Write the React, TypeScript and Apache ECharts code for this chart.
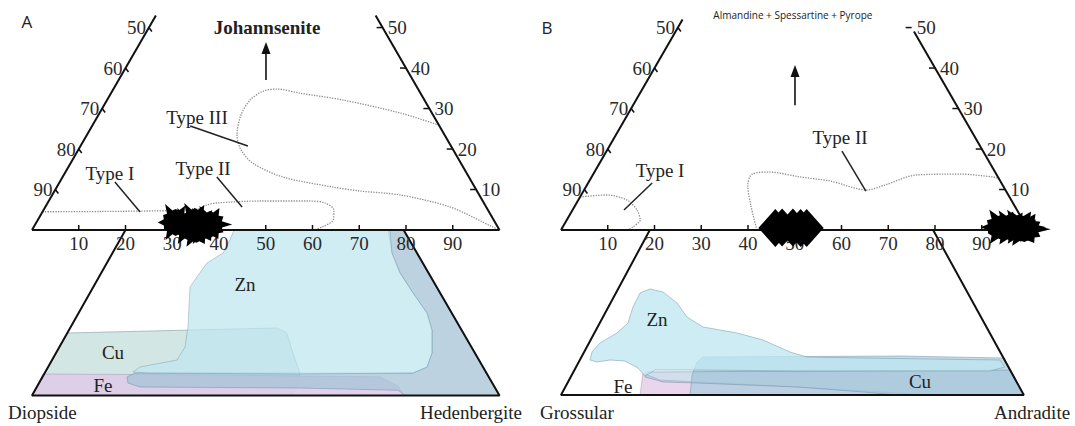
import React, { useEffect, useRef } from "react";
import * as echarts from "echarts";

// ---------- data ----------
const baseTicks = [10, 20, 30, 40, 50, 60, 70, 80, 90];
const leftTicks = [90, 80, 70, 60, 50];
const rightTicks = [10, 20, 30, 40, 50];

// ternary contours: [second end-member %, apex %]
const typeI_II_A = [
  [0, 4.5], [12.3, 4.57], [28.2, 4.82], [32.9, 5.19], [34.3, 6.18], [36.2, 6.67],
  [45.2, 7.16], [55.9, 7.16], [59.3, 6.67], [62.1, 4.94], [63.2, 2.47], [61.7, 0.74], [60.3, 0],
];
const typeIII_A = [
  [74.1, 25.9], [64.3, 28.9], [50.5, 32.1], [40.4, 33.8], [35.0, 34.8], [32.3, 34.3], [30.6, 32.1],
  [30.5, 28.4], [32.1, 23.5], [34.8, 19.8], [39.0, 16.5], [47.1, 13.1], [59.1, 10.6], [65.4, 9.63],
  [74.4, 8.65], [86.6, 5.68], [98.2, 0.74], [100, 0],
];
const typeI_B = [
  [0, 8.15], [5.5, 8.65], [10.4, 7.41], [13.8, 4.94], [15.7, 2.47], [15.0, 0.74], [14.3, 0],
];
const typeII_B = [
  [41.9, 0], [37.5, 6.18], [34.4, 11.1], [34.0, 13.8], [37.5, 14.3], [44.6, 13.1], [51.5, 12.1],
  [60.5, 9.88], [63.7, 11.1], [69.3, 13.6], [78.4, 13.8], [85.9, 13.1], [87.2, 12.8],
];
const leadersA = [
  [[11.8, 11.86], [20.9, 4.45]],
  [[33.0, 13.09], [42.1, 5.68]],
  [[21.0, 25.7], [35.8, 20.75]],
];
const leadersB = [
  [[13.7, 11.6], [11.0, 4.94]],
  [[50.35, 19.5], [60.4, 9.63]],
];
// sample markers (ternary)
const starsA = [[30.2, 2.0], [33.3, 1.0], [34.2, 2.2], [36.5, 1.0], [37.8, 1.5], [35.5, 0.3]];
const diamondsB = [[45.6, 0.5], [47.0, 0.6], [49.3, 0.6], [51.0, 0.5], [52.3, 0.5]];
const starsB = [[94.5, 0.8], [96.6, 0.6], [98.3, 0.8], [99.5, 0.3]];

// lower (projected) fields, cartesian diagram units
const trapA = [[20, 0], [0, -35.4], [100, -35.4], [79.5, 0]];
const trapB = [[19, 0], [0, -35.3], [99, -35.3], [79.6, 0]];
const feA = [[2.35, -30.8], [35.9, -31.0], [74.4, -31.4], [78.3, -33.4], [79.6, -35.4], [0, -35.4]];
const cuA = [[7.55, -22.03], [52.4, -20.96], [54.5, -22.03], [55.8, -26.3], [57.3, -30.6], [56.9, -32.7], [55.6, -35.4], [0, -35.4]];
const znA = [
  [43.21, 0], [76.58, 0], [77.0, -4.92], [78.72, -9.2], [81.5, -13.48], [84.49, -17.76], [85.56, -21.39],
  [85.56, -26.31], [84.49, -29.3], [81.5, -30.59], [57.33, -30.8], [25.24, -30.59], [21.6, -30.37],
  [23.1, -29.3], [31.02, -27.81], [32.73, -25.03], [33.37, -20.75], [33.58, -16.47], [33.8, -12.19],
  [35.29, -10.05], [37.43, -7.06], [40.86, -4.92], [42.35, -2.14],
];
const dA = [
  [76.15, 0], [79.36, 0], [100, -35.4], [79.79, -35.4], [78.29, -34.29], [57.33, -33.8], [23.1, -33.58],
  [20.53, -32.73], [20.32, -31.44], [22.03, -30.59], [81.5, -30.59], [84.49, -29.3], [85.56, -26.31],
  [85.56, -21.39], [84.49, -17.76], [81.5, -13.48], [78.72, -9.2], [77.0, -4.92],
];
const feB = [[17.54, -30.59], [21.18, -32.09], [34.0, -32.73], [51.1, -33.58], [72.5, -34.87], [76.8, -35.3], [16.9, -35.3]];
const cuB = [[29.09, -28.24], [30.37, -27.17], [72.51, -26.95], [94.76, -27.38], [99.0, -35.3], [27.59, -35.3], [28.02, -31.02]];
const bandB = [
  [18.4, -30.37], [96.0, -29.95], [99.0, -35.3], [71.9, -35.3], [64.6, -34.65], [50.5, -33.58],
  [29.1, -32.73], [21.8, -32.51], [17.97, -31.44],
];
const znB = [
  [6.2, -27.81], [6.63, -26.1], [8.34, -24.17], [11.98, -22.03], [14.33, -19.89], [15.4, -16.47],
  [16.9, -13.48], [19.04, -12.62], [21.82, -13.26], [24.81, -15.61], [26.95, -18.61], [30.37, -20.75],
  [37.65, -22.03], [43.21, -23.53], [48.98, -26.1], [52.62, -27.17], [64.6, -27.38], [78.93, -27.59],
  [93.9, -27.81], [94.97, -29.3], [91.76, -30.16], [72.51, -30.16], [51.12, -30.16], [29.73, -29.95],
  [20.1, -29.95], [17.97, -31.23], [16.47, -29.52], [13.69, -28.02], [10.48, -27.81], [7.7, -28.24],
];

// ---------- styles / layout ----------
const SCALE = 4.675;
const SERIF = "'Liberation Serif', 'Times New Roman', serif";
const SANS = "'Open Sans', 'Noto Sans', sans-serif";
const R3 = Math.sqrt(3) / 2;
const t2c = (p: number[]) => [p[0] + p[1] / 2, p[1] * R3];

const annotsA = [
  { text: "A", pos: [-1.07, 44.5], size: 17, family: SANS, align: "center" },
  { text: "Johannsenite", pos: [50.27, 43.42], size: 19, weight: "bold", align: "center" },
  { text: "Type III", pos: [35.3, 24.17], size: 19, align: "center" },
  { text: "Type I", pos: [16.68, 12.19], size: 19, align: "center" },
  { text: "Type II", pos: [36.58, 13.26], size: 19, align: "center" },
  { text: "Zn", pos: [45.56, -11.76], size: 19, align: "center" },
  { text: "Cu", pos: [17.33, -26.1], size: 19, align: "center" },
  { text: "Fe", pos: [15.19, -33.16], size: 19, align: "center" },
  { text: "Diopside", pos: [-5.13, -39.14], size: 19, align: "left" },
  { text: "Hedenbergite", pos: [104.8, -39.14], size: 19, align: "right" },
];
const annotsB = [
  { text: "B", pos: [-2.99, 43.4], size: 17, family: SANS, align: "center" },
  { text: "Almandine + Spessartine + Pyrope", pos: [49.6, 46.0], size: 10, family: SANS, align: "center" },
  { text: "Type I", pos: [21.18, 12.83], size: 19, align: "center" },
  { text: "Type II", pos: [59.68, 19.89], size: 19, align: "center" },
  { text: "Zn", pos: [20.53, -19.25], size: 19, align: "center" },
  { text: "Cu", pos: [76.8, -32.5], size: 19, align: "center" },
  { text: "Fe", pos: [13.26, -33.58], size: 19, align: "center" },
  { text: "Grossular", pos: [-4.49, -39.14], size: 19, align: "left" },
  { text: "Andradite", pos: [108.9, -39.14], size: 19, align: "right" },
];

const starPath = (() => {
  const rs = [1, 0.55, 0.7, 0.55, 0.85, 0.55, 0.6, 0.55, 0.95, 0.55, 0.65, 0.55, 0.8, 0.55, 0.6, 0.55, 0.9, 0.55, 0.6, 0.55, 0.75, 0.55, 0.7, 0.55];
  let d = "";
  rs.forEach((r, i) => {
    const a = (i * Math.PI * 2) / rs.length;
    d += (i ? "L" : "M") + (r * Math.cos(a)).toFixed(3) + " " + (-r * Math.sin(a)).toFixed(3) + " ";
  });
  return "path://" + d + "Z";
})();

function buildPanel(g: number, cfg: any) {
  const series: any[] = [];
  const ax = { xAxisIndex: g, yAxisIndex: g };
  // filled fields
  series.push({
    type: "custom", ...ax, silent: true, z: 1, clip: false,
    data: cfg.regions.map((_: any, i: number) => [i, 0]),
    renderItem: (params: any, api: any) => {
      const r = cfg.regions[params.dataIndex];
      return {
        type: "polygon",
        shape: { points: r.pts.map((p: number[]) => api.coord(p)), smooth: r.smooth || 0 },
        style: { fill: r.fill, stroke: r.stroke, lineWidth: 0.8 },
      };
    },
  });
  // contours
  cfg.contours.forEach((c: number[][]) =>
    series.push({
      type: "line", ...ax, data: c.map(t2c), symbol: "none", silent: true, clip: false, z: 2, smooth: 0.3,
      lineStyle: { color: "#8c8c8c", width: 1.3, type: "dotted" },
    })
  );
  // leaders
  cfg.leaders.forEach((c: number[][]) =>
    series.push({
      type: "line", ...ax, data: c.map(t2c), symbol: "none", silent: true, clip: false, z: 3,
      lineStyle: { color: "#222", width: 1.5 },
    })
  );
  // frame
  const frames = [
    [[0, 0], [100, 0]],
    [[0, 0], t2c([0, cfg.leftTop])],
    [[100, 0], t2c([100 - cfg.rightTop, cfg.rightTop])],
    cfg.trap,
  ];
  frames.forEach((f) =>
    series.push({
      type: "line", ...ax, data: f, symbol: "none", silent: true, clip: false, z: 3,
      lineStyle: { color: "#111", width: 2 },
    })
  );
  // ticks and tick labels
  const ticks: any[] = [];
  baseTicks.forEach((t) => ticks.push({ p: [t, 0], dir: [0, -1], len: 5, label: String(t), off: [0, 13], align: "center" }));
  leftTicks.forEach((t) => ticks.push({ p: t2c([0, 100 - t]), dir: [0.6, 0.8], len: 5, label: String(t), off: [-3, 0], align: "right" }));
  rightTicks.forEach((t) => ticks.push({ p: t2c([100 - t, t]), dir: [-1, 0], len: 6, label: String(t), off: [5, 0], align: "left" }));
  series.push({
    type: "custom", ...ax, silent: true, z: 4, clip: false,
    data: ticks.map((_, i) => [i, 0]),
    renderItem: (params: any, api: any) => {
      const t = ticks[params.dataIndex];
      const [x, y] = api.coord(t.p);
      return {
        type: "group",
        children: [
          { type: "line", shape: { x1: x, y1: y, x2: x + t.dir[0] * t.len, y2: y + t.dir[1] * t.len }, style: { stroke: "#111", lineWidth: 1.5 } },
          {
            type: "text", x: x + t.off[0], y: y + t.off[1],
            style: { text: t.label, fontFamily: SERIF, fontSize: 19, fill: "#2a2a2a", align: t.align, verticalAlign: "middle" },
          },
        ],
      };
    },
  });
  // annotations
  series.push({
    type: "custom", ...ax, silent: true, z: 6, clip: false,
    data: cfg.annots.map((_: any, i: number) => [i, 0]),
    renderItem: (params: any, api: any) => {
      const a = cfg.annots[params.dataIndex];
      const [x, y] = api.coord(a.pos);
      return {
        type: "text", x, y,
        style: {
          text: a.text, fontFamily: a.family || SERIF, fontSize: a.size, fontWeight: a.weight || "normal",
          fill: "#222", align: a.align, verticalAlign: "middle",
        },
      };
    },
  });
  // arrow
  series.push({
    type: "custom", ...ax, silent: true, z: 6, clip: false,
    data: [[0, 0]],
    renderItem: (params: any, api: any) => {
      const [x1, y1] = api.coord(cfg.arrow[0]);
      const [x2, y2] = api.coord(cfg.arrow[1]);
      return {
        type: "group",
        children: [
          { type: "line", shape: { x1, y1, x2, y2: y2 + 10 }, style: { stroke: "#111", lineWidth: 1.6 } },
          { type: "polygon", shape: { points: [[x2, y2], [x2 - 4.5, y2 + 12], [x2 + 4.5, y2 + 12]] }, style: { fill: "#111" } },
        ],
      };
    },
  });
  // markers
  cfg.markers.forEach((m: any) =>
    series.push({
      type: "scatter", ...ax, data: m.data.map(t2c), symbol: m.symbol, symbolSize: m.size, silent: true, z: 5, clip: false,
      itemStyle: { color: "#000", opacity: 1 },
    })
  );
  return series;
}

export default function App() {
  const ref = useRef<HTMLDivElement>(null);
  useEffect(() => {
    document.body.style.margin = "0";
    const chart = echarts.init(ref.current!, null, { renderer: "svg" });
    const top = 230 - 46 * SCALE;
    const height = 86 * SCALE;
    const seriesA = buildPanel(0, {
      leftTop: 53, rightTop: 53, trap: trapA,
      regions: [
        { pts: cuA, fill: "rgba(208,230,226,0.95)", stroke: "rgba(120,150,150,0.7)" },
        { pts: feA, fill: "rgba(222,204,232,0.9)", stroke: "rgba(150,130,160,0.5)" },
        { pts: dA, fill: "rgba(165,195,215,0.75)", stroke: "rgba(110,140,160,0.6)" },
        { pts: znA, fill: "rgba(190,230,240,0.72)", stroke: "rgba(120,160,170,0.6)" },
      ],
      contours: [typeI_II_A, typeIII_A],
      leaders: leadersA,
      annots: annotsA,
      arrow: [[50.05, 32.1], [50.05, 40.2]],
      markers: [{ data: starsA, symbol: starPath, size: [40, 36] }],
    });
    const seriesB = buildPanel(1, {
      leftTop: 52, rightTop: 49, trap: trapB,
      regions: [
        { pts: feB, fill: "rgba(232,212,236,0.95)", stroke: "rgba(150,130,160,0.5)" },
        { pts: cuB, fill: "rgba(170,205,222,0.7)", stroke: "rgba(110,140,160,0.6)" },
        { pts: bandB, fill: "rgba(150,185,210,0.45)", stroke: "rgba(110,140,160,0.6)" },
        { pts: znB, fill: "rgba(190,230,240,0.75)", stroke: "rgba(120,160,170,0.7)" },
      ],
      contours: [typeI_B, typeII_B],
      leaders: leadersB,
      annots: annotsB,
      arrow: [[50.05, 26.7], [50.05, 35.3]],
      markers: [
        { data: diamondsB, symbol: "diamond", size: [34, 38] },
        { data: starsB, symbol: starPath, size: [48, 34] },
      ],
    });
    chart.setOption({
      animation: false,
      grid: [
        { left: 32, top, width: 100 * SCALE, height },
        { left: 561, top, width: 100 * SCALE, height },
      ],
      xAxis: [
        { gridIndex: 0, type: "value", min: 0, max: 100, show: false },
        { gridIndex: 1, type: "value", min: 0, max: 100, show: false },
      ],
      yAxis: [
        { gridIndex: 0, type: "value", min: -40, max: 46, show: false },
        { gridIndex: 1, type: "value", min: -40, max: 46, show: false },
      ],
      series: [...seriesA, ...seriesB],
    });
    return () => chart.dispose();
  }, []);
  return <div ref={ref} style={{ width: 1075, height: 426, background: "#fff" }} />;
}
